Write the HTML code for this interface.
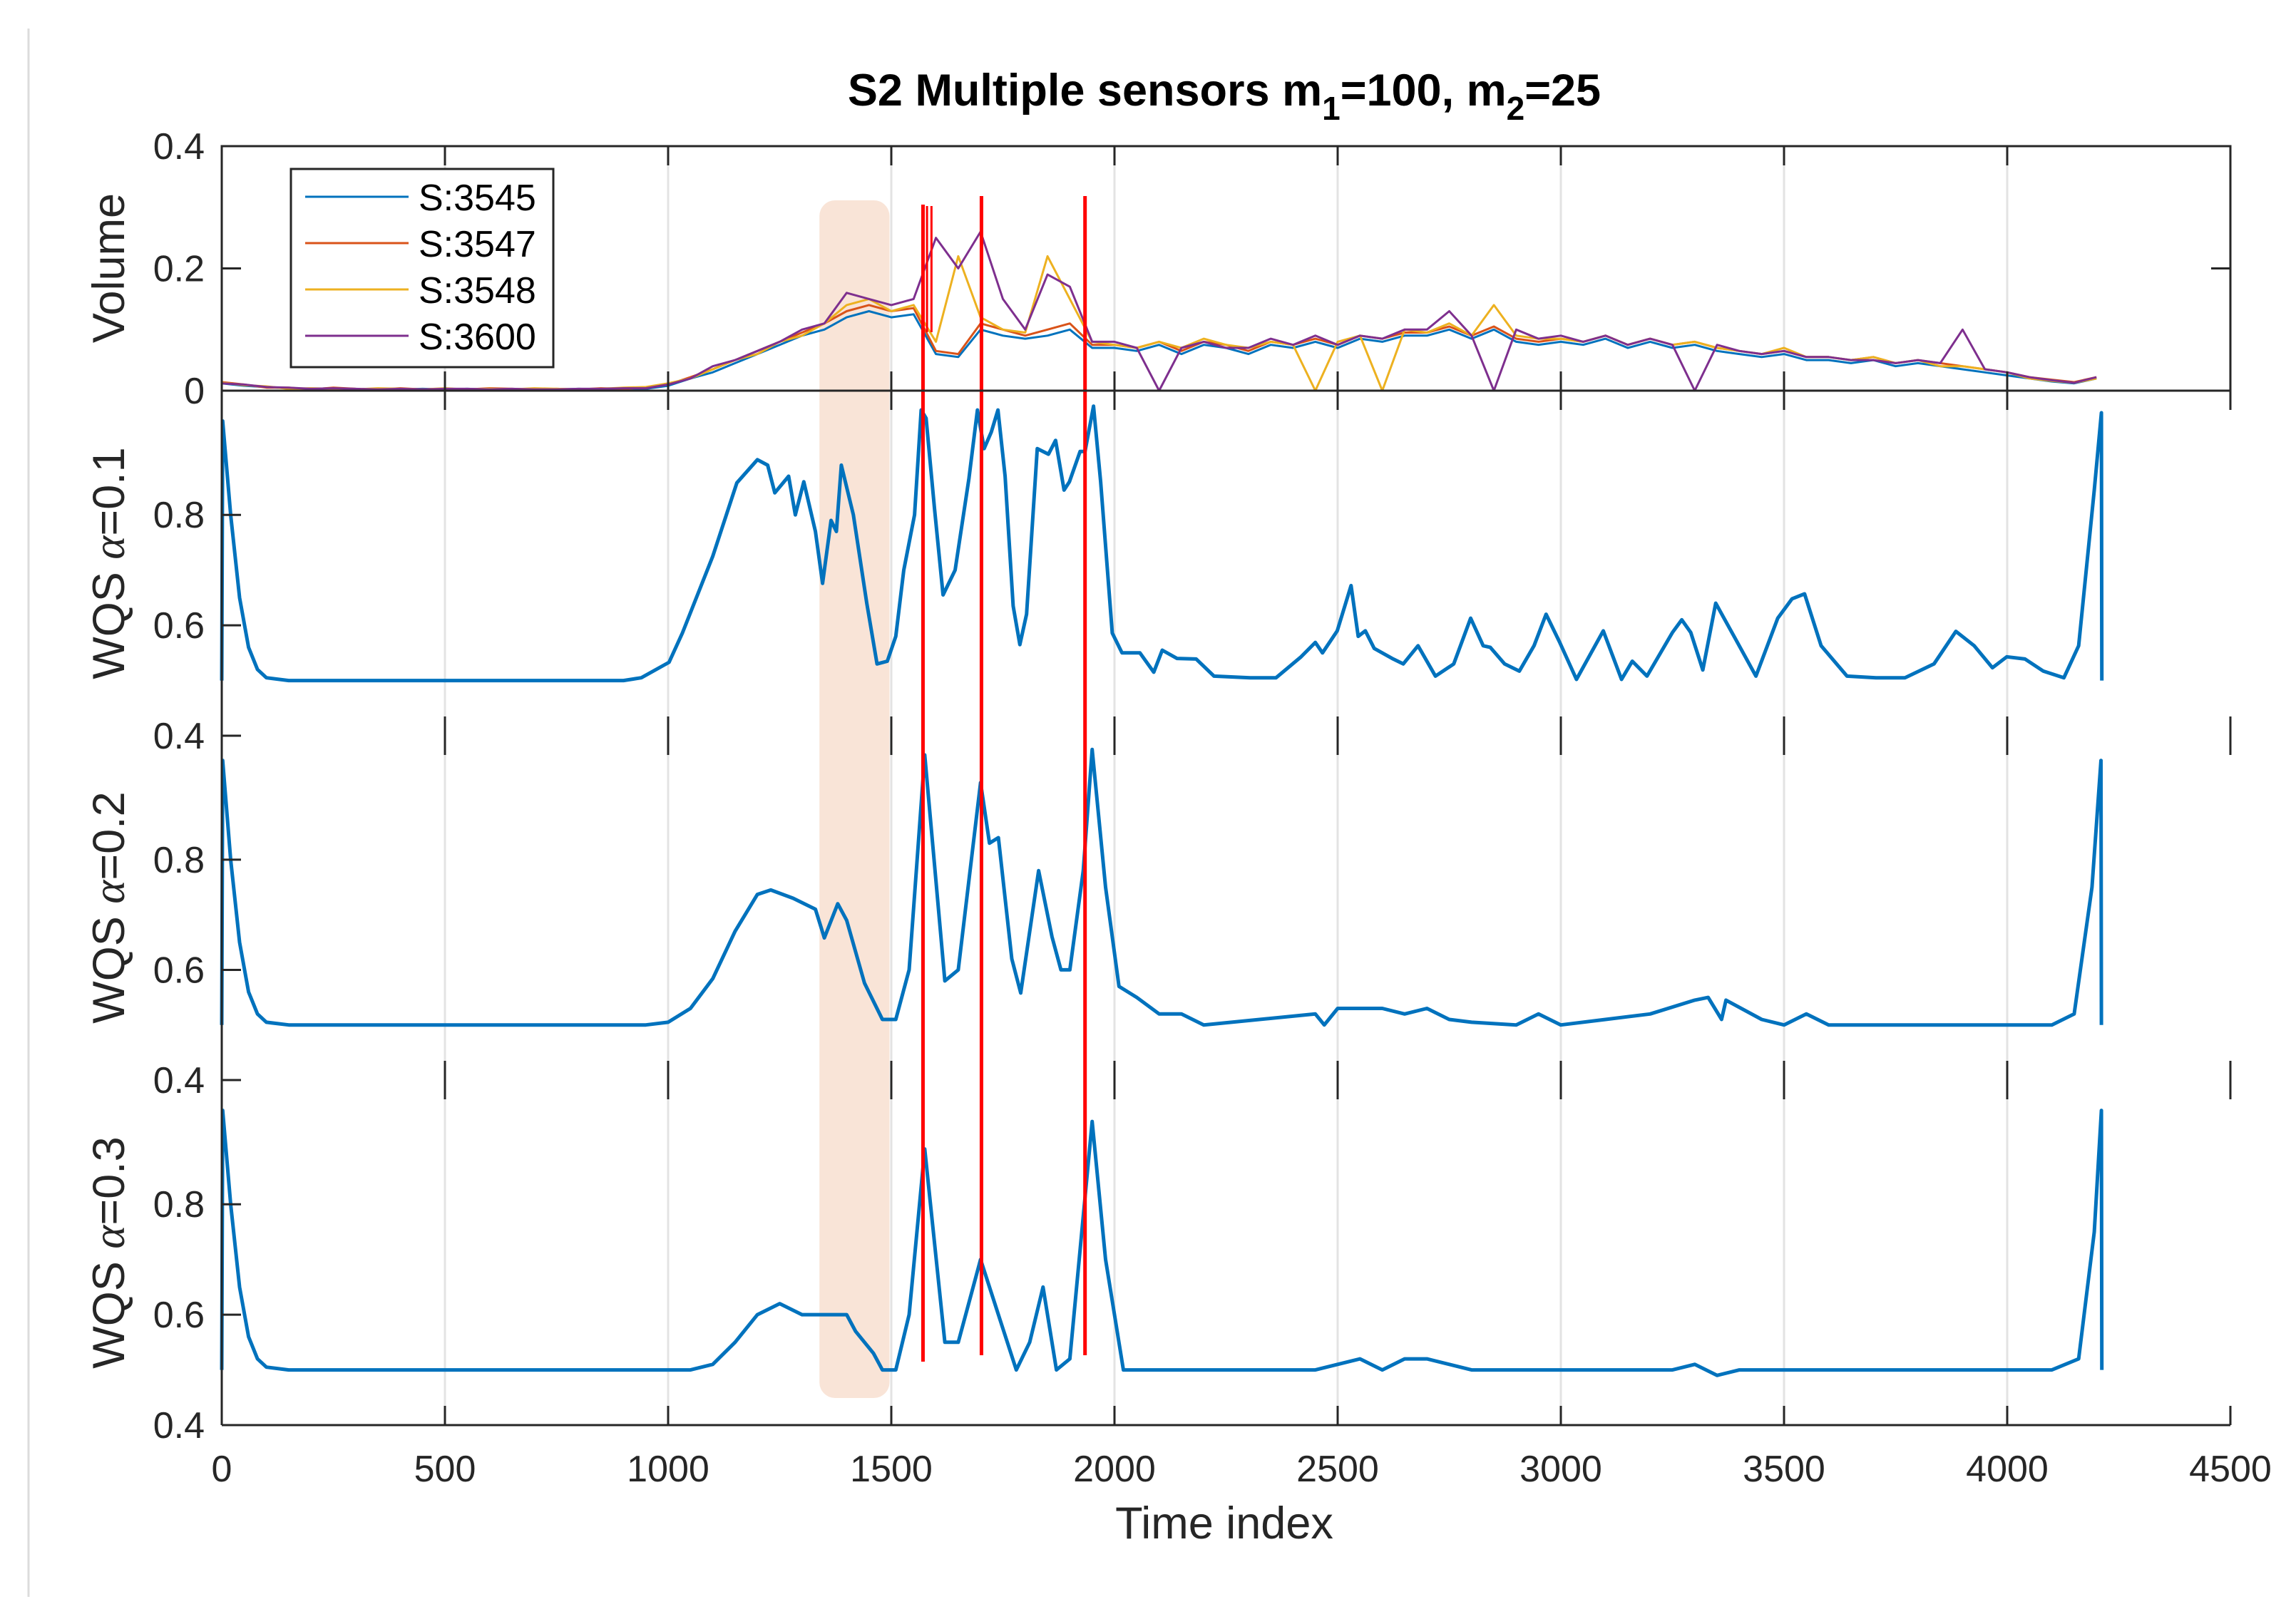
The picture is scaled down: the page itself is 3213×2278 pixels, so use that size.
<!DOCTYPE html>
<html><head><meta charset="utf-8"><style>
html,body{margin:0;padding:0;background:#fff;}
svg{display:block;font-family:"Liberation Sans",sans-serif;}
</style></head><body>
<svg id="chart" width="3213" height="2278" viewBox="0 0 3213 2278" xmlns="http://www.w3.org/2000/svg">
<line x1="40" y1="40" x2="40" y2="2240" stroke="#dcdcdc" stroke-width="3"/>
<g id="grid"></g>
<rect id="shade" rx="22" ry="22" fill="#f5d2bd" fill-opacity="0.6"/>
<g id="series"></g>
<g id="marks"></g>
<g id="axes"></g>
<text x="1717" y="148" text-anchor="middle" font-size="63" font-weight="bold" fill="#000">S2 Multiple sensors m<tspan font-size="46" dy="20">1</tspan><tspan dy="-20">=100, m</tspan><tspan font-size="46" dy="20">2</tspan><tspan dy="-20">=25</tspan></text>
<text x="1717" y="2158" text-anchor="middle" font-size="63" fill="#262626">Time index</text>
<text transform="translate(174,376) rotate(-90)" text-anchor="middle" font-size="63" fill="#262626">Volume</text>
<text transform="translate(174,790) rotate(-90)" text-anchor="middle" font-size="63" fill="#262626">WQS <tspan font-family="Liberation Serif,serif" font-style="italic">α</tspan>=0.1</text>
<text transform="translate(174,1273) rotate(-90)" text-anchor="middle" font-size="63" fill="#262626">WQS <tspan font-family="Liberation Serif,serif" font-style="italic">α</tspan>=0.2</text>
<text transform="translate(174,1757) rotate(-90)" text-anchor="middle" font-size="63" fill="#262626">WQS <tspan font-family="Liberation Serif,serif" font-style="italic">α</tspan>=0.3</text>
<g>
<rect x="408" y="237" width="368" height="278" fill="#fff" stroke="#262626" stroke-width="3"/>
<line x1="428" y1="276" x2="573" y2="276" stroke="#0072BD" stroke-width="3"/>
<text x="587" y="295" font-size="52" fill="#000">S:3545</text>
<line x1="428" y1="341" x2="573" y2="341" stroke="#D95319" stroke-width="3"/>
<text x="587" y="360" font-size="52" fill="#000">S:3547</text>
<line x1="428" y1="406" x2="573" y2="406" stroke="#EDB120" stroke-width="3"/>
<text x="587" y="425" font-size="52" fill="#000">S:3548</text>
<line x1="428" y1="471" x2="573" y2="471" stroke="#7E2F8E" stroke-width="3"/>
<text x="587" y="490" font-size="52" fill="#000">S:3600</text>
</g>
</svg>
<script>
// ---- data ----
const xTicks = [0,500,1000,1500,2000,2500,3000,3500,4000,4500];
const volStep = 50;
const vol3545 = [.012,.008,.006,.004,.003,.004,.002,.003,.002,.003,.002,.003,.002,.002,.003,.002,.003,.002,.004,.003,
 .008,.02,.03,.045,.06,.075,.09,.1,.12,.13,.12,.125,.06,.055,.1,.09,.085,.09,.1,.07,
 .07,.065,.075,.06,.075,.07,.06,.075,.07,.08,.07,.085,.08,.09,.09,.1,.085,.1,.08,.075,
 .08,.075,.085,.07,.08,.07,.075,.065,.06,.055,.06,.05,.05,.045,.05,.04,.045,.04,.035,.03,.025,.02,.015,.012,.02];
const vol3547 = [.014,.01,.005,.005,.002,.005,.003,.002,.004,.002,.003,.002,.004,.003,.002,.003,.002,.004,.003,.005,
 .01,.022,.035,.05,.065,.08,.095,.11,.13,.14,.13,.135,.065,.06,.11,.1,.09,.1,.11,.075,
 .075,.07,.08,.065,.08,.075,.065,.08,.075,.085,.075,.09,.085,.095,.095,.105,.09,.105,.085,.08,
 .085,.08,.09,.075,.085,.075,.08,.07,.065,.06,.065,.055,.055,.05,.055,.045,.05,.045,.04,.035,.03,.022,.018,.014,.022];
const vol3548 = [.013,.009,.007,.003,.004,.003,.002,.004,.003,.002,.004,.002,.003,.002,.004,.003,.002,.003,.005,.006,
 .012,.02,.035,.05,.06,.08,.09,.11,.14,.15,.13,.14,.08,.22,.12,.1,.095,.22,.15,.08,
 .075,.07,.08,.07,.085,.075,.07,.08,.075,0,.08,.09,0,.1,.095,.11,.09,.14,.09,.085,
 .085,.08,.09,.075,.085,.075,.08,.07,.065,.06,.07,.055,.055,.05,.055,.045,.05,.04,.04,.035,.03,.02,.016,.013,.02];
const vol3600 = [.012,.01,.006,.005,.003,.004,.003,.002,.003,.002,.003,.003,.002,.003,.002,.002,.003,.003,.004,.004,
 .01,.02,.04,.05,.065,.08,.1,.11,.16,.15,.14,.15,.25,.2,.26,.15,.1,.19,.17,.08,
 .08,.07,0,.07,.08,.07,.07,.085,.075,.09,.075,.09,.085,.1,.1,.13,.09,0,.1,.085,
 .09,.08,.09,.075,.085,.075,0,.075,.065,.06,.065,.055,.055,.05,.05,.045,.05,.045,.1,.035,.03,.022,.017,.013,.022];
const wqsT1 = [0,2,20,40,60,80,100,150,900,940,1002,1032,1100,1154,1200,1223,1239,1270,1285,1304,1330,1346,1365,1377,1388,1415,1445,1468,1491,1510,1528,1552,1567,1578,1597,1616,1643,1674,1693,1708,1724,1739,1755,1773,1788,1803,1827,1852,1868,1887,1899,1923,1934,1953,1969,1995,2017,2057,2088,2107,2140,2183,2223,2304,2362,2418,2450,2466,2499,2530,2546,2562,2582,2622,2647,2680,2719,2760,2798,2826,2842,2874,2907,2940,2967,2997,3035,3095,3136,3160,3193,3250,3271,3291,3318,3347,3388,3437,3486,3518,3546,3583,3641,3706,3771,3836,3885,3926,3967,3999,4040,4081,4127,4160,4195,4211,4212];
const wqsV1 = [.5,.97,.8,.65,.56,.52,.505,.5,.5,.505,.533,.586,.725,.858,.9,.89,.84,.87,.8,.86,.77,.676,.79,.77,.89,.8,.64,.53,.535,.58,.7,.8,.99,.975,.81,.655,.7,.866,.99,.92,.95,.99,.87,.635,.565,.62,.92,.91,.935,.845,.86,.915,.915,.997,.86,.586,.55,.55,.515,.555,.54,.539,.508,.505,.505,.543,.569,.55,.59,.672,.58,.59,.558,.54,.53,.563,.508,.53,.613,.563,.56,.53,.517,.563,.62,.57,.502,.59,.502,.535,.508,.587,.61,.587,.519,.64,.58,.508,.613,.648,.657,.563,.508,.505,.505,.53,.589,.563,.523,.543,.539,.517,.505,.563,.845,.985,.5];
const wqsT2 = [0,2,20,40,60,80,100,150,950,1000,1050,1100,1150,1200,1230,1280,1330,1350,1380,1400,1440,1480,1510,1540,1575,1620,1650,1700,1720,1740,1770,1790,1830,1860,1880,1900,1930,1950,1980,2010,2050,2100,2150,2200,2450,2470,2500,2600,2650,2700,2750,2800,2900,2950,3000,3100,3200,3300,3330,3360,3370,3450,3500,3550,3600,4100,4150,4190,4210,4211];
const wqsV2 = [.5,.98,.8,.65,.56,.52,.505,.5,.5,.505,.53,.584,.67,.737,.745,.73,.71,.658,.72,.69,.576,.51,.51,.6,.99,.58,.6,.94,.83,.84,.62,.558,.78,.66,.6,.6,.78,1.0,.75,.57,.55,.52,.52,.5,.52,.5,.53,.53,.52,.53,.51,.505,.5,.52,.5,.51,.52,.545,.55,.51,.545,.51,.5,.52,.5,.5,.52,.75,.98,.5];
const wqsT3 = [0,2,20,40,60,80,100,150,1050,1100,1150,1200,1250,1300,1400,1420,1460,1480,1510,1540,1575,1620,1650,1700,1740,1780,1810,1840,1870,1900,1950,1980,2020,2100,2450,2500,2550,2600,2650,2700,2800,3250,3300,3350,3400,4100,4160,4195,4211,4212];
const wqsV3 = [.5,.97,.8,.65,.56,.52,.505,.5,.5,.51,.55,.6,.62,.6,.6,.57,.53,.5,.5,.6,.9,.55,.55,.7,.6,.5,.55,.65,.5,.52,.95,.7,.5,.5,.5,.51,.52,.5,.52,.52,.5,.5,.51,.49,.5,.5,.52,.75,.97,.5];
const redLinesT = [1571,1702,1934];
const shortRedT = [1580,1590];
const shadeT = [1339,1496];

// ---- layout ----
const NS = "http://www.w3.org/2000/svg";
const X0 = 311, X1 = 3128;
const xs = t => X0 + (t/4500)*(X1-X0);
const P = [
 {top:205, bot:548, ymin:0, ymax:0.4, ticks:[0,0.2,0.4], labels:["0","0.2","0.4"]},
 {top:548, bot:1032, ymin:0.4, ymax:1.025, ticks:[0.4,0.6,0.8], labels:["0.4","0.6","0.8"]},
 {top:1032, bot:1515, ymin:0.4, ymax:1.025, ticks:[0.4,0.6,0.8], labels:["0.4","0.6","0.8"]},
 {top:1515, bot:1999, ymin:0.4, ymax:1.025, ticks:[0.4,0.6,0.8], labels:["0.4","0.6","0.8"]}
];
const ys = (p,v) => p.bot - (v-p.ymin)/(p.ymax-p.ymin)*(p.bot-p.top);
function mk(tag, attrs, parent){const e=document.createElementNS(NS,tag);for(const k in attrs)e.setAttribute(k,attrs[k]);parent.appendChild(e);return e;}
const grid=document.getElementById('grid'), series=document.getElementById('series'), marks=document.getElementById('marks'), axes=document.getElementById('axes');

// grid + ticks
P.forEach((p,pi)=>{
 xTicks.forEach(t=>{
  const x=xs(t);
  if(t>0 && t<4500){
   const g=mk('line',{x1:x,y1:p.top,x2:x,y2:p.bot,stroke:'#e3e3e3','stroke-width':3},grid);
   
   
  }
  const a=mk('line',{x1:x,y1:p.bot,x2:x,y2:p.bot-27,stroke:'#262626','stroke-width':3},axes);
  
  
  const b=mk('line',{x1:x,y1:p.top,x2:x,y2:p.top+27,stroke:'#262626','stroke-width':3},axes);
  
  
 });
 p.ticks.forEach((v,i)=>{
  const y=ys(p,v);
  const tk=mk('line',{x1:X0,y1:y,x2:X0+27,y2:y,stroke:'#262626','stroke-width':3},axes);
  
  
  if(pi===0){
   const tr=mk('line',{x1:X1,y1:y,x2:X1-27,y2:y,stroke:'#262626','stroke-width':3},axes);
   
   
  }
  if(p.labels[i]){
   const lb=mk('text',{x:287,y:y+18,'text-anchor':'end','font-size':52,fill:'#262626'},axes);
   
   
   lb.textContent=p.labels[i];
  }
 });
});
// axes lines
const la=mk('line',{x1:X0,y1:205,x2:X0,y2:1999,stroke:'#262626','stroke-width':3},axes);


const vb=mk('rect',{x:X0,y:205,width:X1-X0,height:343,fill:'none',stroke:'#262626','stroke-width':3},axes);


const ba=mk('line',{x1:X0,y1:1999,x2:X1,y2:1999,stroke:'#262626','stroke-width':3},axes);


xTicks.forEach(t=>{
 const l=mk('text',{x:xs(t),y:2078,'text-anchor':'middle','font-size':52,fill:'#262626'},axes);
 
 
 l.textContent=String(t);
});

// shade
const sh=document.getElementById('shade');
sh.setAttribute('x',xs(shadeT[0])); sh.setAttribute('width',xs(shadeT[1])-xs(shadeT[0]));
sh.setAttribute('y',281); sh.setAttribute('height',1680);

// volume series
const volSeries=[[vol3545,'#0072BD','volume-s3545'],[vol3547,'#D95319','volume-s3547'],[vol3548,'#EDB120','volume-s3548'],[vol3600,'#7E2F8E','volume-s3600']];
volSeries.forEach(([arr,c,n])=>{
 const pts=arr.map((v,i)=>xs(i*volStep).toFixed(1)+','+ys(P[0],v).toFixed(1)).join(' ');
 const pl=mk('polyline',{points:pts,fill:'none',stroke:c,'stroke-width':3,'stroke-linejoin':'round'},series);
 
 
});
// wqs series
[[wqsT1,wqsV1,1,'wqs-alpha-01-line'],[wqsT2,wqsV2,2,'wqs-alpha-02-line'],[wqsT3,wqsV3,3,'wqs-alpha-03-line']].forEach(([T,V,pi,n])=>{
 const pts=T.map((t,i)=>xs(t).toFixed(1)+','+ys(P[pi],V[i]).toFixed(1)).join(' ');
 const pl=mk('polyline',{points:pts,fill:'none',stroke:'#0072BD','stroke-width':5,'stroke-linejoin':'round'},series);
 
 
});
// red event lines
redLinesT.forEach((t,i)=>{
 const l=mk('line',{x1:xs(t),y1:i===0?287:275,x2:xs(t),y2:i===0?1910:1901,stroke:'#ff0000','stroke-width':5},marks);
 
 
});
shortRedT.forEach(t=>{
 const l=mk('line',{x1:xs(t),y1:289,x2:xs(t),y2:466,stroke:'#ff0000','stroke-width':3},marks);
 
 
});
</script>
</body></html>
